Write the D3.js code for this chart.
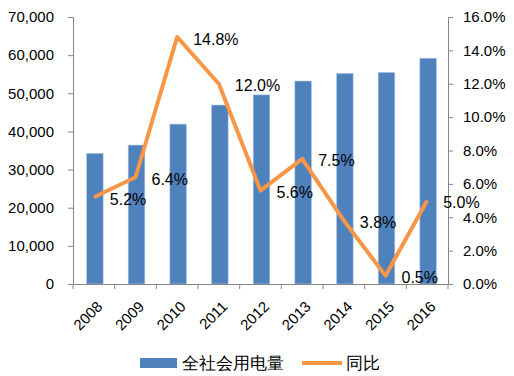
<!DOCTYPE html>
<html><head><meta charset="utf-8">
<script src="https://cdn.jsdelivr.net/npm/d3@7"></script>
<style>body{margin:0;background:#fff;} text{font-family:"Liberation Sans",Arial,sans-serif;}</style>
</head><body><svg id="c" width="514" height="376"></svg>
<script>
const years = ["2008","2009","2010","2011","2012","2013","2014","2015","2016"];
const consumption = [34268,36430,41923,46928,49591,53223,55233,55500,59198];
const growth = [5.2,6.4,14.8,12.0,5.6,7.5,3.8,0.5,5.0];
const leftTicks = [0,10000,20000,30000,40000,50000,60000,70000];
const rightTicks = [0,2,4,6,8,10,12,14,16];
const seriesNames = ["全社会用电量","同比"];

const svg = d3.select("#c");
const L = 73, R = 448, T = 17, B = 284;
const axisColor = "#868686";
const x = d3.scaleBand().domain(years).range([L,R]).paddingInner(0).paddingOuter(0);
const yL = d3.scaleLinear().domain([0,70000]).range([B,T]);
const yR = d3.scaleLinear().domain([0,16]).range([B,T]);
const fs = "15px";

// bars
const bw = x.bandwidth()*0.4;
svg.append("g").selectAll("rect").data(years).join("rect")
  .attr("x", d=>x(d)+x.bandwidth()/2-bw/2+1)
  .attr("y", (d,i)=>yL(consumption[i]))
  .attr("width", bw)
  .attr("height", (d,i)=>B-yL(consumption[i]))
  .attr("fill","#4F81BD").attr("stroke","#B9CDE5").attr("stroke-width",0.6);

// left axis
const gl = svg.append("g").attr("transform",`translate(${L},0)`)
  .call(d3.axisLeft(yL).tickValues(leftTicks).tickFormat(d3.format(",")).tickSize(5).tickPadding(14));
// right axis
const gr = svg.append("g").attr("transform",`translate(${R},0)`)
  .call(d3.axisRight(yR).tickValues(rightTicks).tickFormat(d=>d.toFixed(1)+"%").tickSize(5).tickPadding(10));
// bottom axis
const gb = svg.append("g").attr("transform",`translate(0,${B})`)
  .call(d3.axisBottom(x).tickSize(0).tickPadding(0));
gb.selectAll(".tick text").remove();
const bounds = years.map(d=>x(d)).concat([R]);
gb.selectAll("line.bt").data(bounds).join("line").attr("class","bt")
  .attr("x1",d=>d).attr("x2",d=>d).attr("y1",0).attr("y2",5).attr("stroke",axisColor);
gb.selectAll("text.yl").data(years).join("text").attr("class","yl")
  .attr("transform",d=>`translate(${x(d)+x.bandwidth()/2+2},${16}) rotate(-45)`)
  .attr("text-anchor","end").attr("dy","0.71em").attr("font-size",fs).attr("fill","#000").text(d=>d);

[gl,gr,gb].forEach(g=>{
  g.selectAll(".domain").attr("stroke",axisColor);
  g.selectAll(".tick line").attr("stroke",axisColor);
  g.selectAll(".tick text").attr("font-size",fs).attr("fill","#000").attr("font-family","Liberation Sans, Arial, sans-serif");
});

// line
const cx = d=>x(d)+x.bandwidth()/2;
const line = d3.line().x((d,i)=>cx(years[i])).y(d=>yR(d));
svg.append("path").datum(growth).attr("d",line).attr("fill","none")
  .attr("stroke","#F79646").attr("stroke-width",4).attr("stroke-linejoin","round");

// labels
svg.append("g").selectAll("text").data(growth).join("text")
  .attr("x",(d,i)=>cx(years[i])+16).attr("y",d=>yR(d)+2)
  .attr("dominant-baseline","central").attr("font-size","16px").attr("fill","#000")
  .text(d=>d.toFixed(1)+"%");

// legend
const lg = svg.append("g");
lg.append("rect").attr("x",140).attr("y",358).attr("width",37).attr("height",10).attr("fill","#4F81BD");
lg.append("text").attr("x",182).attr("y",363).attr("dominant-baseline","central")
  .attr("font-size","16.5px").attr("font-family","Noto Sans CJK SC").text(seriesNames[0]);
lg.append("line").attr("x1",302).attr("x2",342).attr("y1",363).attr("y2",363)
  .attr("stroke","#F79646").attr("stroke-width",4);
lg.append("text").attr("x",346).attr("y",363).attr("dominant-baseline","central")
  .attr("font-size","16.5px").attr("font-family","Noto Sans CJK SC").text(seriesNames[1]);
</script></body></html>
